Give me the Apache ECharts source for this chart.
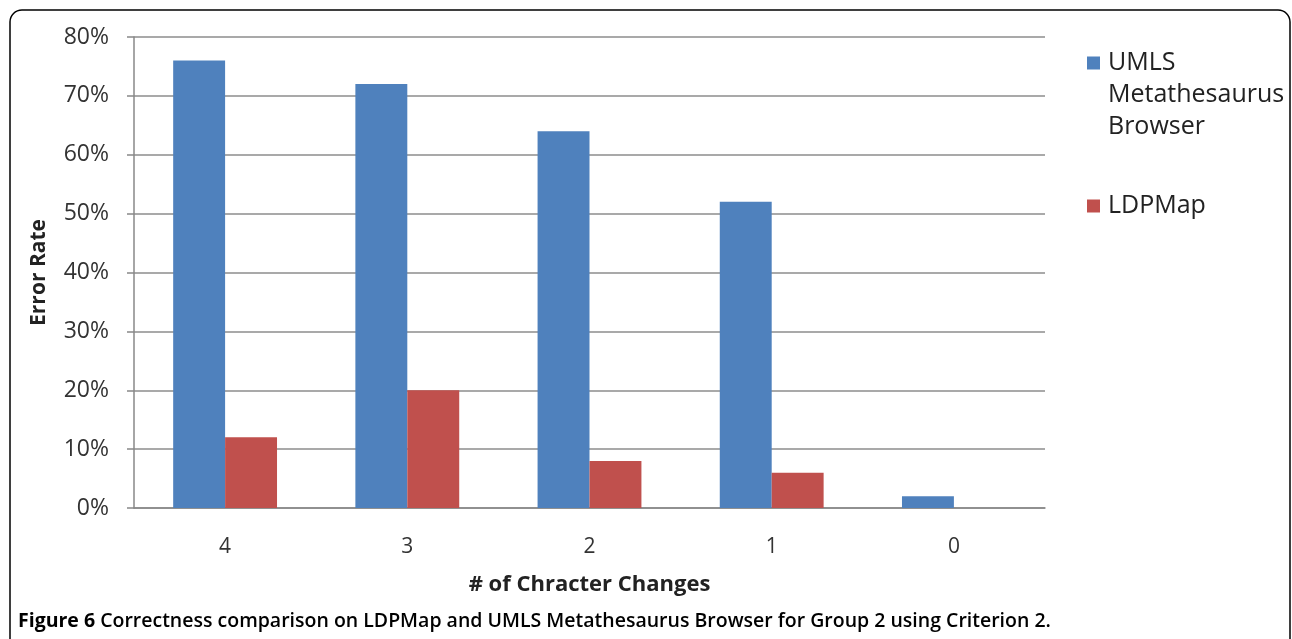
<!DOCTYPE html>
<html>
<head>
<meta charset="utf-8">
<script src="https://cdn.jsdelivr.net/npm/echarts@6/dist/echarts.min.js"></script>
<style>
html,body{margin:0;padding:0;background:#fff;}
#chart{width:1292px;height:639px;}
</style>
</head>
<body>
<div id="chart"></div>
<script>
const categories = ['4', '3', '2', '1', '0'];
const umlsValues = [76, 72, 64, 52, 2];
const ldpmapValues = [12, 20, 8, 6, 0];
const yTicks = [0, 10, 20, 30, 40, 50, 60, 70, 80];
const seriesNames = ['UMLS Metathesaurus Browser', 'LDPMap'];

const chart = echarts.init(document.getElementById('chart'), null, {renderer: 'canvas'});
const font = '"Open Sans", Lato, sans-serif';
const option = {
  backgroundColor: '#fff',
  animation: false,
  grid: {left: 134, right: 247, top: 37, bottom: 131, containLabel: false},
  legend: [
    {
      data: [seriesNames[0]],
      orient: 'vertical',
      left: 1087, top: -17, padding: 0,
      icon: 'rect', itemWidth: 13, itemHeight: 13,
      formatter: function () { return ' \n \nUMLS\nMetathesaurus\nBrowser'; },
      textStyle: {fontFamily: font, fontSize: 25, color: '#222', lineHeight: 32, padding: [0, 0, 0, 3]}
    },
    {
      data: [seriesNames[1]],
      orient: 'vertical',
      left: 1087, top: 190, padding: 0,
      icon: 'rect', itemWidth: 13, itemHeight: 13,
      textStyle: {fontFamily: font, fontSize: 25, color: '#222', lineHeight: 32, padding: [0, 0, 0, 3]}
    }
  ],
  xAxis: {
    type: 'category',
    data: categories,
    name: '# of Chracter Changes',
    nameLocation: 'middle',
    nameGap: 66,
    nameTextStyle: {fontFamily: font, fontSize: 22, fontWeight: 'bold', color: '#222'},
    axisLine: {lineStyle: {color: '#888', width: 1.5}},
    axisTick: {show: false},
    axisLabel: {fontFamily: font, fontSize: 21, color: '#333', margin: 29}
  },
  yAxis: {
    type: 'value',
    min: 0, max: 80, interval: 10,
    name: 'Error Rate',
    nameLocation: 'middle',
    nameGap: 84,
    nameTextStyle: {fontFamily: font, fontSize: 21, fontWeight: 'bold', color: '#222'},
    axisLine: {show: true, lineStyle: {color: '#888', width: 1.5}},
    axisTick: {show: true, length: 7, lineStyle: {color: '#888', width: 1.5}},
    axisLabel: {fontFamily: font, fontSize: 23, color: '#333', margin: 25,
      formatter: function (v) { return yTicks.indexOf(v) >= 0 ? v + '%' : ''; }},
    splitLine: {lineStyle: {color: '#8c8c8c', width: 1.5}}
  },
  series: [
    {name: seriesNames[0], type: 'bar', data: umlsValues, barGap: '0%', barCategoryGap: '43%',
      itemStyle: {color: '#4F81BD'}},
    {name: seriesNames[1], type: 'bar', data: ldpmapValues,
      itemStyle: {color: '#C0504D'}}
  ],
  graphic: [
    {type: 'rect', shape: {x: 10, y: 10, width: 1280, height: 720, r: 12},
      style: {fill: 'none', stroke: '#000', lineWidth: 1.5}, silent: true},
    {type: 'text', left: 18, top: 611,
      style: {
        text: '{b|Figure 6} Correctness comparison on LDPMap and UMLS Metathesaurus Browser for Group 2 using Criterion 2.',
        font: '600 19.5px "Open Sans", sans-serif',
        fill: '#000',
        rich: {b: {fontFamily: '"Open Sans", sans-serif', fontSize: 19.5, fontWeight: 'bold', fill: '#000'}}
      }}
  ]
};
chart.setOption(option);
</script>
</body>
</html>
